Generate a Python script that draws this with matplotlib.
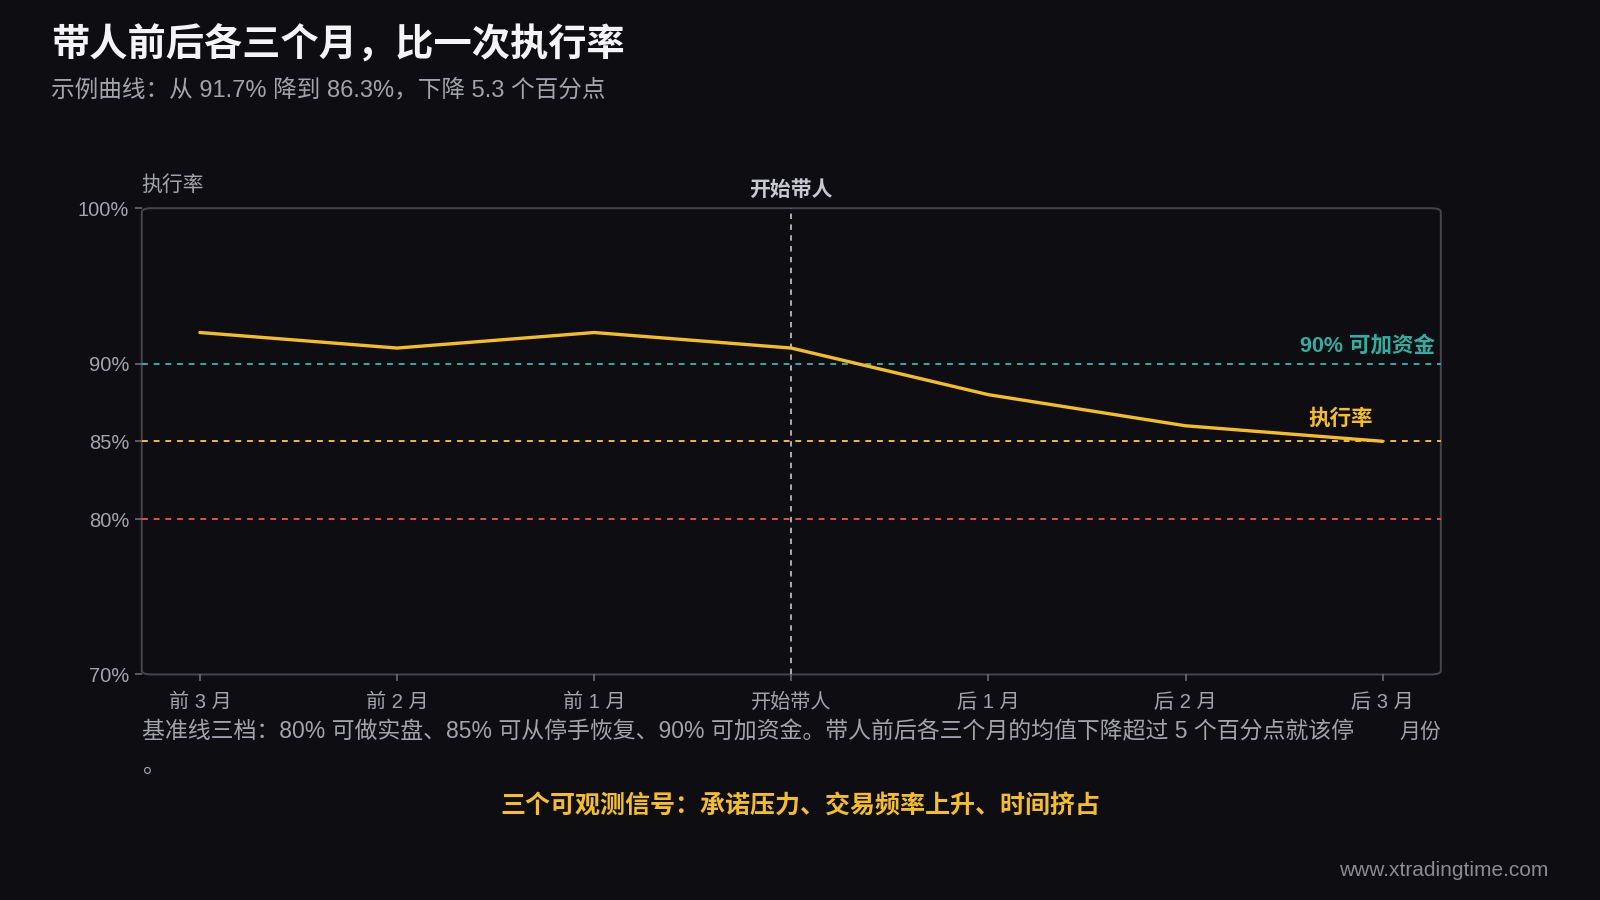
import matplotlib
matplotlib.use("Agg")
import matplotlib.pyplot as plt
from matplotlib.patches import FancyBboxPatch

plt.rcParams['font.family'] = ['Liberation Sans', 'Noto Sans CJK SC', 'DejaVu Sans']

months = ['前 3 月', '前 2 月', '前 1 月', '开始带人', '后 1 月', '后 2 月', '后 3 月']
rate = [92.0, 91.0, 92.0, 91.0, 88.0, 86.0, 85.0]
y_ticks = [70, 80, 85, 90, 100]
y_tick_labels = ['70%', '80%', '85%', '90%', '100%']
baselines = [80, 85, 90]
baseline_colors = ['#e0504f', '#f2bd2a', '#2eaf9f']
start_idx = 3

bg = '#0e0e12'
grey = '#a3a3ab'
yellow = '#f5bf23'

fig = plt.figure(figsize=(16, 9), dpi=100, facecolor=bg)
ax = fig.add_axes([0.0886, 0.2506, 0.9005 - 0.0886, 0.7687 - 0.2506])
ax.set_facecolor(bg)

x = list(range(len(months)))
ax.set_xlim(-0.295, len(months) - 1 + 0.295)
ax.set_ylim(70, 100)

# baselines
for v, c in zip(baselines, baseline_colors):
    ax.axhline(v, color=c, lw=1.4, ls=(0, (3, 3)), zorder=2)

# start marker
ax.axvline(start_idx, color='#b8b8c0', lw=1.3, ls=(0, (3, 3)), zorder=2)
ax.text(start_idx, 101.2, '开始带人', ha='center', va='center', color='#c8c8d0',
        fontsize=15, fontweight='bold')

ax.plot(x, rate, color=yellow, lw=2.4, zorder=3, solid_capstyle='round')

ax.text(6.265, 91.1, '90% 可加资金', ha='right', va='center', color='#2eaf9f',
        fontsize=15.5, fontweight='bold')
ax.text(5.95, 86.4, '执行率', ha='right', va='center', color=yellow,
        fontsize=15.5, fontweight='bold')

for s in ax.spines.values():
    s.set_visible(False)
frame = FancyBboxPatch((0, 0), 1, 1, boxstyle='round,pad=0,rounding_size=0.008',
                       transform=ax.transAxes, fill=False, ec='#45454c', lw=1.4,
                       zorder=1, clip_on=False)
ax.add_patch(frame)

ax.set_xticks(x)
ax.set_xticklabels(months)
ax.set_yticks(y_ticks)
ax.set_yticklabels(y_tick_labels)
ax.tick_params(axis='both', colors='#6a6a72', labelcolor=grey, labelsize=14.5,
               length=5, width=1.2)
ax.tick_params(axis='x', pad=8)
ax.tick_params(axis='y', pad=4)

ax.text(0.0, 101.5, '执行率', transform=ax.get_yaxis_transform(), ha='left',
        va='center', color=grey, fontsize=15)
ax.text(1.0, -0.123, '月份', transform=ax.transAxes, ha='right', va='center',
        color=grey, fontsize=15)

fig.text(0.032, 0.951, '带人前后各三个月，比一次执行率', ha='left', va='center',
         color='#f4f4f6', fontsize=27.5, fontweight='bold')
fig.text(0.032, 0.9, '示例曲线：从 91.7% 降到 86.3%，下降 5.3 个百分点', ha='left',
         va='center', color=grey, fontsize=17)

fig.text(0.0886, 0.187,
         '基准线三档：80% 可做实盘、85% 可从停手恢复、90% 可加资金。带人前后各三个月的均值下降超过 5 个百分点就该停',
         ha='left', va='center', color=grey, fontsize=16.5)
fig.text(0.0886, 0.149, '。', ha='left', va='center', color=grey, fontsize=16.5)

fig.text(0.5, 0.104, '三个可观测信号：承诺压力、交易频率上升、时间挤占', ha='center',
         va='center', color=yellow, fontsize=18, fontweight='bold')

fig.text(0.968, 0.033, 'www.xtradingtime.com', ha='right', va='center',
         color='#8a8a92', fontsize=15)

fig.savefig('out.png', dpi=100, facecolor=bg)
